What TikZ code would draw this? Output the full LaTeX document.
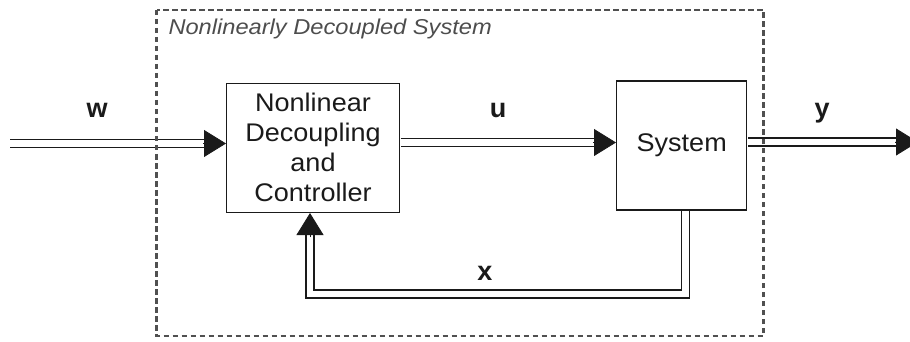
\documentclass[tikz,border=0pt]{standalone}
\usepackage{fontspec}
\setmainfont{Liberation Sans}
\newfontfamily\boxfont[FakeStretch=1.06]{Liberation Sans}
\newfontfamily\titlefont[FakeStretch=1.10]{Liberation Sans}
\usetikzlibrary{arrows.meta,calc}
\definecolor{ink}{HTML}{1A1A1A}
\definecolor{frame}{HTML}{505050}
\definecolor{caption}{HTML}{4D4D4D}
\tikzset{
  blk/.style={draw=ink, line width=1.4pt, inner sep=0pt, align=center,
    font=\boxfont\fontsize{25.5}{30}\selectfont, text=ink},
  dbl/.style={draw=ink, double=white, line width=1.4pt, double distance=6.5pt,
    line join=miter},
  tipto/.style={draw=ink, fill=ink, line width=0.8pt,
    -{Triangle[length=22pt,width=27pt]}},
  sig/.style={font=\bfseries\fontsize{27}{30}\selectfont, text=ink, anchor=base},
  groupbox/.style={draw=frame, line width=2.2pt, dash pattern=on 5.5pt off 3.5pt},
}
\begin{document}
\begin{tikzpicture}[x=1pt, y=-1pt]
  \useasboundingbox (0,0) rectangle (910,342);
  \clip (0,0) rectangle (910,342);

  % blocks
  \node[blk, minimum width=172.6pt, minimum height=129pt] (ctrl) at (313,147.8)
    {Nonlinear\\Decoupling\\and\\Controller};
  \node[blk, minimum width=130pt, minimum height=129pt] (sys) at (681.7,145.5)
    {System};

  % reference points for the signal lines
  \coordinate (win) at (10,143.5);
  \coordinate (uy) at (0,142.5);
  \coordinate (yout) at (918,142);
  \coordinate (c1) at (685.5,294);
  \coordinate (c2) at (310,294);

  % w: input
  \draw[dbl, shorten >=18pt] (win) -- (ctrl.west |- win);
  \draw[tipto] ($(ctrl.west |- win)+(-23,0)$) -- (ctrl.west |- win);

  % u: controller to system
  \draw[dbl, shorten <=0.7pt, shorten >=18pt] (ctrl.east |- uy) -- (sys.west |- uy);
  \draw[tipto] ($(sys.west |- uy)+(-23,0)$) -- (sys.west |- uy);

  % y: output
  \draw[dbl, shorten <=0.7pt, shorten >=18pt] (sys.east |- yout) -- (yout);
  \draw[tipto] ($(yout)+(-23,0)$) -- (yout);

  % x: state feedback
  \draw[dbl, shorten <=0.7pt] (sys.south -| c1) -- (c1) -- (c2)
    -- ($(ctrl.south -| c2)+(0,20)$);
  \draw[tipto] ($(ctrl.south -| c2)+(0,24)$) -- (ctrl.south -| c2);

  % signal names
  \node[sig] (lw) at (97,117.5) {w};
  \node[sig] (lu) at (498,117.5) {u};
  \node[sig] (ly) at (822,117.5) {y};
  \node[sig] (lx) at (485,280.5) {x};

  % surrounding group
  \draw[groupbox] (156.5,10) rectangle (763.5,336);
  \node[anchor=base west, inner sep=0pt, text=caption,
    font=\titlefont\itshape\fontsize{21.5}{25}\selectfont] (title) at (168.3,34.3)
    {Nonlinearly Decoupled System};
\end{tikzpicture}
\end{document}
